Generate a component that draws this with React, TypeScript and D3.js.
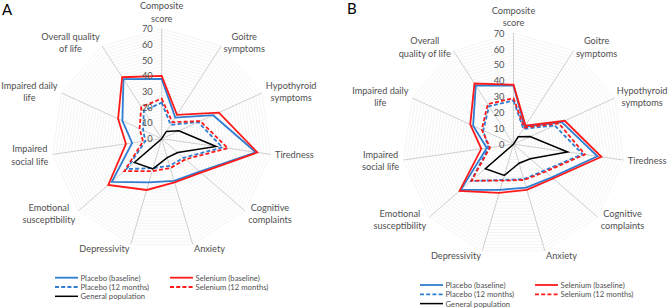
import React from "react";
import * as d3 from "d3";

// ---------- data ----------
const axisLabelsA: string[][] = [
  ["Composite", "score"],
  ["Goitre", "symptoms"],
  ["Hypothyroid", "symptoms"],
  ["Tiredness"],
  ["Cognitive", "complaints"],
  ["Anxiety"],
  ["Depressivity"],
  ["Emotional", "susceptibility"],
  ["Impaired", "social life"],
  ["Impaired daily", "life"],
  ["Overall quality", "of life"],
];
const axisLabelsB: string[][] = [
  ["Composite", "score"],
  ["Goitre", "symptoms"],
  ["Hypothyroid", "symptoms"],
  ["Tiredness"],
  ["Cognitive", "complaints"],
  ["Anxiety"],
  ["Depressivity"],
  ["Emotional", "susceptibility"],
  ["Impaired", "social life"],
  ["Impaired daily", "life"],
  ["Overall", "quality of life"],
];
const tickValues = [0, 10, 20, 30, 40, 50, 60, 70];
const seriesNames = [
  "Placebo (baseline)",
  "Placebo (12 months)",
  "Selenium (baseline)",
  "Selenium (12 months)",
  "General population",
];

const placeboBaselineA = [38, 16, 36, 60.5, 32, 28, 29, 42, 19, 27.5, 45];
const placebo12A = [23, 10.5, 25.5, 39, 18.5, 18, 19.5, 29.5, 10.5, 13, 21];
const seleniumBaselineA = [40, 18, 40, 61.5, 33, 29, 34, 45, 23, 30.5, 46.5];
const selenium12A = [25.5, 12.5, 27, 42.5, 20, 19.5, 21.5, 31.5, 12, 15.5, 24];
const generalA = [0, 5.5, 12, 35, 13.5, 12.5, 20, 23, 0, 0, 0];

const placeboBaselineB = [37, 13, 33.5, 53.5, 32, 28.5, 30, 44, 17, 28, 44];
const placebo12B = [27.5, 11.5, 28.5, 44, 25.5, 23, 23.5, 35.5, 16, 21, 28.5];
const seleniumBaselineB = [37.5, 14, 35.5, 56, 33, 30, 32, 45, 20.5, 30, 45.5];
const selenium12B = [29, 12.5, 31.5, 45.5, 26.5, 23.5, 24, 35, 15, 22, 30];
const generalB = [0, 5.5, 11.5, 34.5, 14, 12.5, 20.5, 23.5, 0, 0, 0];

// ---------- styles ----------
const BLUE = "#2f7dd1";
const RED = "#ff1a1a";
const BLACK = "#000000";
const seriesStyles = [
  { color: BLUE, dash: "" },
  { color: BLUE, dash: "4 2.2" },
  { color: RED, dash: "" },
  { color: RED, dash: "4 2.2" },
  { color: BLACK, dash: "" },
];
const FONT = "Lato, 'Open Sans', sans-serif";
const TEXT = "#505050";
const WIDTH = 669;
const HEIGHT = 308;

let _ctx: CanvasRenderingContext2D | null = null;
function measure(text: string, size: number): number {
  if (!_ctx) {
    const c = document.createElement("canvas");
    _ctx = c.getContext("2d");
  }
  if (!_ctx) return text.length * size * 0.5;
  _ctx.font = `${size}px Lato`;
  return _ctx.measureText(text).width;
}

type RadarProps = {
  cx: number;
  cy: number;
  R: number;
  labels: string[][];
  series: number[][];
  letter: string;
  letterX: number;
  letterY: number;
  legendX: number;
  legendY: number;
};

function Radar({ cx, cy, R, labels, series, letter, letterX, letterY, legendX, legendY }: RadarProps) {
  const n = labels.length;
  const r = d3.scaleLinear().domain([0, 70]).range([0, R]);
  const angle = d3
    .scaleLinear()
    .domain([0, n])
    .range([0, 2 * Math.PI]);
  const gridVals = d3.range(2, 71, 2);
  const labelSize = 9.2;
  const lineH = 12.2;

  const ring = (v: number) =>
    d3
      .lineRadial<number>()
      .angle((_, i) => angle(i))
      .radius(() => r(v))
      .curve(d3.curveLinearClosed)(d3.range(n)) || "";

  const seriesPath = (vals: number[]) =>
    d3
      .lineRadial<number>()
      .angle((_, i) => angle(i))
      .radius((d) => r(d))
      .curve(d3.curveLinearClosed)(vals) || "";

  const order = [0, 1, 2, 3, 4];

  return (
    <g>
      <text x={letterX} y={letterY} fontFamily={FONT} fontSize={15} fill="#000">
        {letter}
      </text>
      <g transform={`translate(${cx},${cy})`}>
        {gridVals.map((v) => (
          <path key={v} d={ring(v)} fill="none" stroke="#ebebeb" strokeWidth={0.55} />
        ))}
        {d3.range(n).map((i) => {
          const a = angle(i);
          return (
            <line
              key={i}
              x1={0}
              y1={0}
              x2={R * Math.sin(a)}
              y2={-R * Math.cos(a)}
              stroke="#c4c4c4"
              strokeWidth={0.8}
            />
          );
        })}
        {order.map((k) => (
          <path
            key={k}
            d={seriesPath(series[k])}
            fill="none"
            stroke={seriesStyles[k].color}
            strokeWidth={k === 4 ? 1.5 : 1.8}
            strokeDasharray={seriesStyles[k].dash}
            strokeLinejoin="miter"
          />
        ))}
        {tickValues.map((t) => (
          <text
            key={t}
            x={-9}
            y={-r(t)}
            textAnchor="end"
            dominantBaseline="central"
            fontFamily={FONT}
            fontSize={9.3}
            fill={TEXT}
          >
            {t}
          </text>
        ))}
        {labels.map((lines, i) => {
          const a = angle(i);
          const dx = Math.sin(a);
          const dy = -Math.cos(a);
          const ar = R + 4.5;
          const ax = ar * dx;
          const ay = ar * dy;
          const w = Math.max(...lines.map((l) => measure(l, labelSize)));
          const h = lines.length * lineH;
          const sx = dx > 0.1 ? 1 : dx < -0.1 ? -1 : 0;
          const sy = sx === 0 ? (dy < 0 ? -1 : 1) : 0;
          let bx = ax + (sx * w) / 2;
          // keep inside the picture
          const maxX = WIDTH - 1.5 - cx - w / 2;
          const minX = 1 - cx + w / 2;
          bx = Math.min(maxX, Math.max(minX, bx));
          const by = ay + (sy * h) / 2;
          return (
            <text
              key={i}
              textAnchor="middle"
              fontFamily={FONT}
              fontSize={labelSize}
              fill={TEXT}
            >
              {lines.map((l, j) => (
                <tspan
                  key={j}
                  x={bx}
                  y={by - h / 2 + lineH * (j + 0.5)}
                  dominantBaseline="central"
                >
                  {l}
                </tspan>
              ))}
            </text>
          );
        })}
      </g>
      <Legend x={legendX} y={legendY} />
    </g>
  );
}

function Legend({ x, y }: { x: number; y: number }) {
  const cols = [
    [0, 1, 4],
    [2, 3],
  ];
  const colX = [0, 115];
  const rowH = 9.3;
  return (
    <g transform={`translate(${x},${y})`}>
      {cols.map((col, ci) =>
        col.map((k, ri) => (
          <g key={k} transform={`translate(${colX[ci]},${ri * rowH})`}>
            <line
              x1={0}
              x2={23}
              y1={0}
              y2={0}
              stroke={seriesStyles[k].color}
              strokeWidth={k === 4 ? 1.5 : 1.8}
              strokeDasharray={seriesStyles[k].dash}
            />
            <text
              x={25.5}
              y={0}
              dominantBaseline="central"
              fontFamily={FONT}
              fontSize={7.7}
              fill={TEXT}
            >
              {seriesNames[k]}
            </text>
          </g>
        ))
      )}
    </g>
  );
}

export default function App() {
  return (
    <div style={{ position: "absolute", left: 0, top: 0, width: WIDTH, height: HEIGHT, background: "#fff" }}>
      <svg width={WIDTH} height={HEIGHT} style={{ display: "block" }}>
        <rect width={WIDTH} height={HEIGHT} fill="#fff" />
        <Radar
          cx={161.7}
          cy={138.7}
          R={110}
          labels={axisLabelsA}
          series={[placeboBaselineA, placebo12A, seleniumBaselineA, selenium12A, generalA]}
          letter="A"
          letterX={2}
          letterY={15}
          legendX={55}
          legendY={277.7}
        />
        <Radar
          cx={513.5}
          cy={144.2}
          R={111}
          labels={axisLabelsB}
          series={[placeboBaselineB, placebo12B, seleniumBaselineB, selenium12B, generalB]}
          letter="B"
          letterX={347}
          letterY={13.5}
          legendX={420}
          legendY={285}
        />
      </svg>
    </div>
  );
}
